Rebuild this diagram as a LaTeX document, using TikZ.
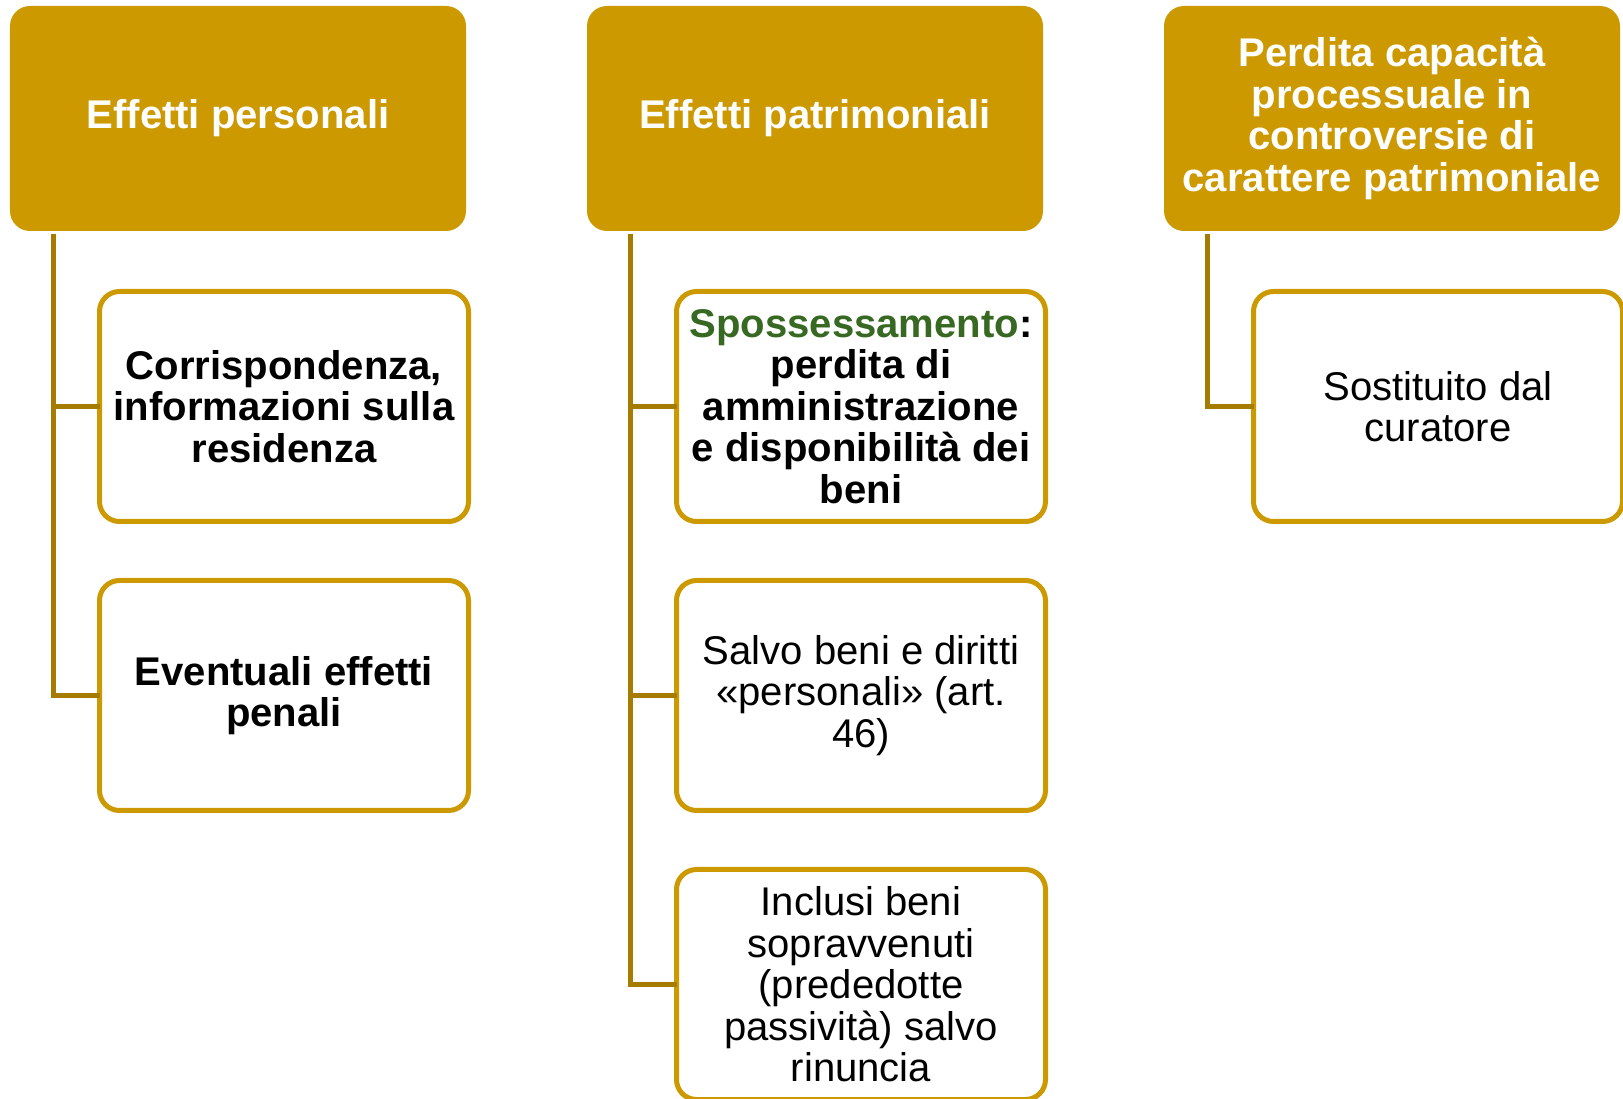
\documentclass[tikz,border=0pt]{standalone}
\usepackage{fontspec}
\setmainfont{Liberation Sans}
\usetikzlibrary{positioning}
\definecolor{gold}{RGB}{204,153,0}
\definecolor{darkgold}{RGB}{166,124,0}
\definecolor{spgreen}{RGB}{55,105,35}

\begin{document}
\begin{tikzpicture}
    \tikzstyle{every node} = [font=\fontsize{22.8}{23.6}\selectfont]
    \tikzstyle{head} = [rectangle, fill=gold, text=white, rounded corners=0.4cm, minimum width=9.12cm, minimum height=4.5cm, align=center, outer sep=0pt, font=\fontsize{22.8}{23.6}\selectfont\bfseries]
    \tikzstyle{item} = [draw=gold, line width=0.1cm, rectangle, fill=white, rounded corners=0.4cm, minimum width=7.38cm, minimum height=4.6cm, align=center, outer sep=0pt]
    \tikzstyle{bold} = [font=\fontsize{22.8}{23.6}\selectfont\bfseries]
    \tikzstyle{link} = [draw=darkgold, line width=0.1cm]
    \useasboundingbox (0,0) rectangle (32.46,-21.98);
    % place nodes
    \node[head](pers) at (4.76,-2.37){Effetti personali};
    \node[head,right=2.42cm of pers](patr){Effetti patrimoniali};
    \node[head,right=2.42cm of patr](proc){Perdita capacità\\processuale in\\controversie di\\carattere patrimoniale};

    \node[item,bold,below right=1.21cm and 1.79cm of pers.south west](corr){Corrispondenza,\\informazioni sulla\\residenza};
    \node[item,bold,below=1.18cm of corr](pena){Eventuali effetti\\penali};

    \node[item,bold,below right=1.21cm and 1.79cm of patr.south west](spos){\textcolor{spgreen}{Spossessamento}:\\perdita di\\amministrazione\\e disponibilità dei\\beni};
    \node[item,below=1.18cm of spos](salv){Salvo beni e diritti\\«personali» (art.\\46)};
    \node[item,below=1.18cm of salv](incl){Inclusi beni\\sopravvenuti\\(prededotte\\passività) salvo\\rinuncia};

    \node[item,below right=1.21cm and 1.79cm of proc.south west](sost){Sostituito dal\\curatore};

    % Connections
    \coordinate[below right=0.06cm and 0.87cm of pers.south west](t1);
    \coordinate[below right=0.06cm and 0.87cm of patr.south west](t2);
    \coordinate[below right=0.06cm and 0.87cm of proc.south west](t3);

    \draw[link] (t1) |- (corr.west);
    \draw[link] (t1) |- (pena.west);

    \draw[link] (t2) |- (spos.west);
    \draw[link] (t2) |- (salv.west);
    \draw[link] (t2) |- (incl.west);

    \draw[link] (t3) |- (sost.west);
\end{tikzpicture}
\end{document}
